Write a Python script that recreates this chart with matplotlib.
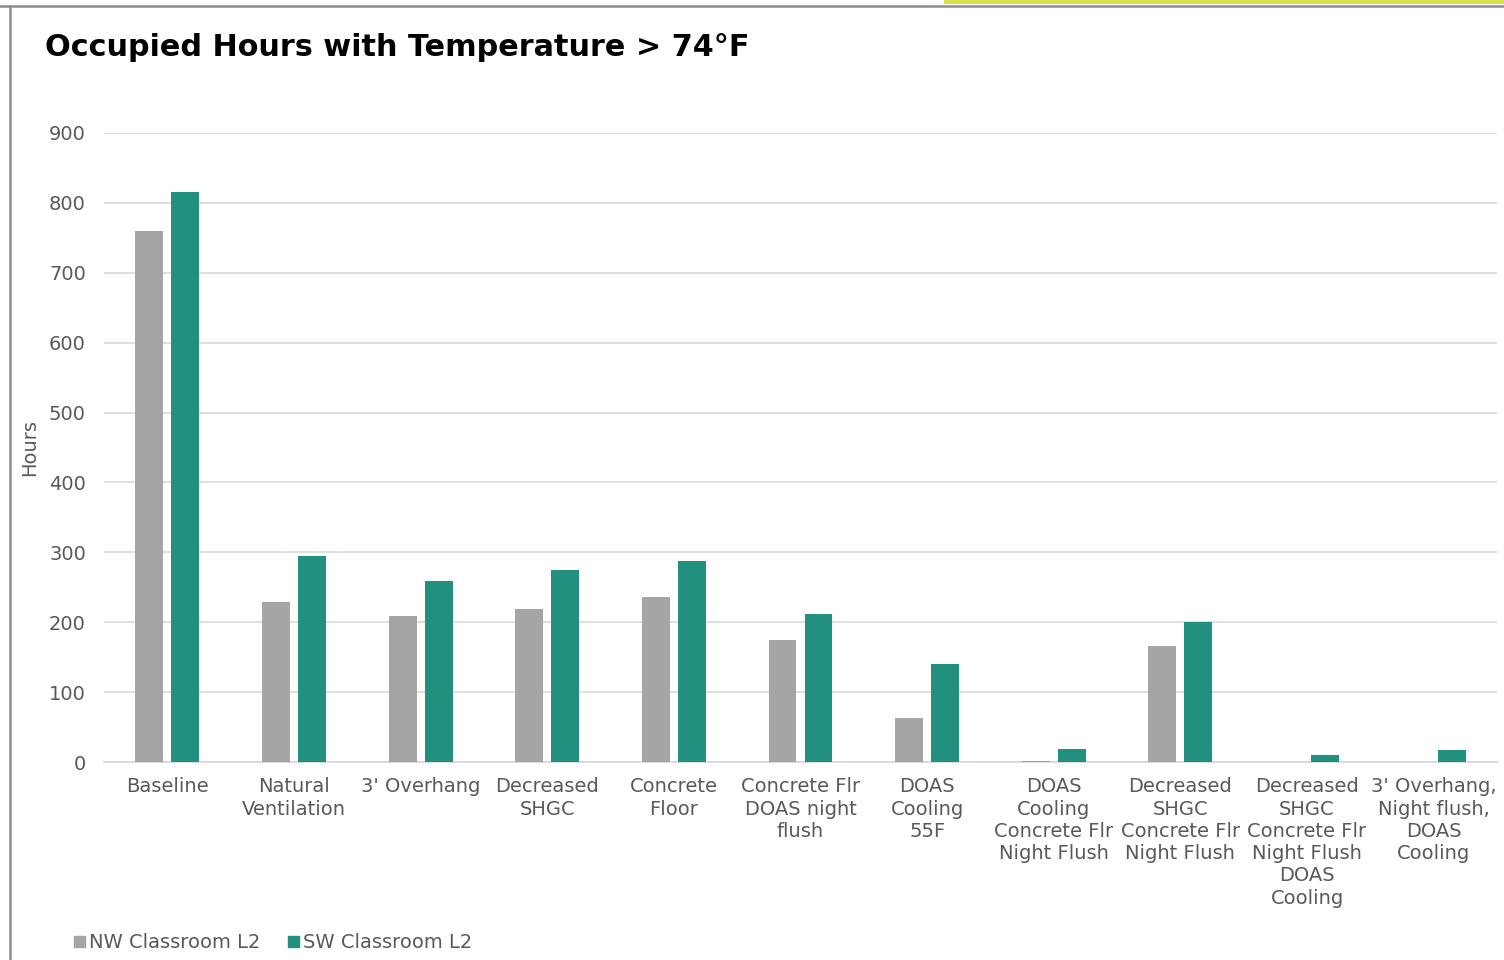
import numpy as np
import matplotlib.pyplot as plt
from matplotlib.patches import Patch, Rectangle
from matplotlib.lines import Line2D

categories = [
    "Baseline",
    "Natural\nVentilation",
    "3' Overhang",
    "Decreased\nSHGC",
    "Concrete\nFloor",
    "Concrete Flr\nDOAS night\nflush",
    "DOAS\nCooling\n55F",
    "DOAS\nCooling\nConcrete Flr\nNight Flush",
    "Decreased\nSHGC\nConcrete Flr\nNight Flush",
    "Decreased\nSHGC\nConcrete Flr\nNight Flush\nDOAS\nCooling",
    "3' Overhang,\nNight flush,\nDOAS\nCooling",
]
nw_hours = [760, 229, 209, 219, 236, 175, 63, 2, 166, 0, 0]
sw_hours = [816, 295, 259, 275, 288, 212, 140, 19, 200, 10, 17]
series_names = ["NW Classroom L2", "SW Classroom L2"]

NW_COLOR = "#a5a5a5"
SW_COLOR = "#21907e"
TEXT_GRAY = "#595959"

plt.rcParams['font.family'] = ['DejaVu Sans']

fig = plt.figure(figsize=(15.04, 9.6), dpi=100)
ax = fig.add_axes([104 / 1504, 1 - 762 / 960, (1497 - 104) / 1504, (762 - 133) / 960])

x = np.arange(len(categories))
w = 0.22
off = 0.142
ax.bar(x - off, nw_hours, w, color=NW_COLOR, zorder=3)
ax.bar(x + off, sw_hours, w, color=SW_COLOR, zorder=3)

ax.set_xlim(-0.5, len(categories) - 0.5)
ax.set_ylim(0, 900)
ax.set_yticks(range(0, 901, 100))
ax.set_xticks(x)
ax.set_xticklabels(categories, linespacing=1.22)
ax.yaxis.grid(True, color="#dcdcdc", linewidth=1.3, zorder=0)
ax.set_axisbelow(True)
for s in ["top", "right", "left"]:
    ax.spines[s].set_visible(False)
ax.spines["bottom"].set_color("#d9d9d9")
ax.spines["bottom"].set_linewidth(1.3)
ax.tick_params(axis="both", length=0, labelsize=14, labelcolor=TEXT_GRAY)
ax.tick_params(axis="y", pad=13)
ax.tick_params(axis="x", pad=11)

fig.text(30 / 1504, 1 - 447 / 960, "Hours", rotation=90, fontsize=14,
         color=TEXT_GRAY, ha="center", va="center")

fig.text(45 / 1504, 1 - 48 / 960, "Occupied Hours with Temperature > 74°F",
         fontsize=21.8, fontweight="bold", color="black", va="center", ha="left")

handles = [Patch(color=NW_COLOR), Patch(color=SW_COLOR)]
fig.legend(handles, series_names, loc="center left",
           bbox_to_anchor=(74 / 1504, 1 - 943 / 960), ncol=2, frameon=False,
           fontsize=14, labelcolor=TEXT_GRAY, handlelength=0.55, handleheight=0.55,
           handletextpad=0.2, columnspacing=1.45, borderpad=0, borderaxespad=0)

# frame around the panel
fig.add_artist(Rectangle((944 / 1504, 1 - 4 / 960), 1 - 944 / 1504, 4 / 960,
                         transform=fig.transFigure, color="#d8e04c", lw=0))
fig.add_artist(Line2D([0, 1], [1 - 5.5 / 960] * 2, transform=fig.transFigure,
                      color="#8c8c8c", lw=1.8))
fig.add_artist(Line2D([10 / 1504] * 2, [0, 1 - 5.5 / 960], transform=fig.transFigure,
                      color="#8c8c8c", lw=1.8))

fig.savefig("out.png", dpi=100)
